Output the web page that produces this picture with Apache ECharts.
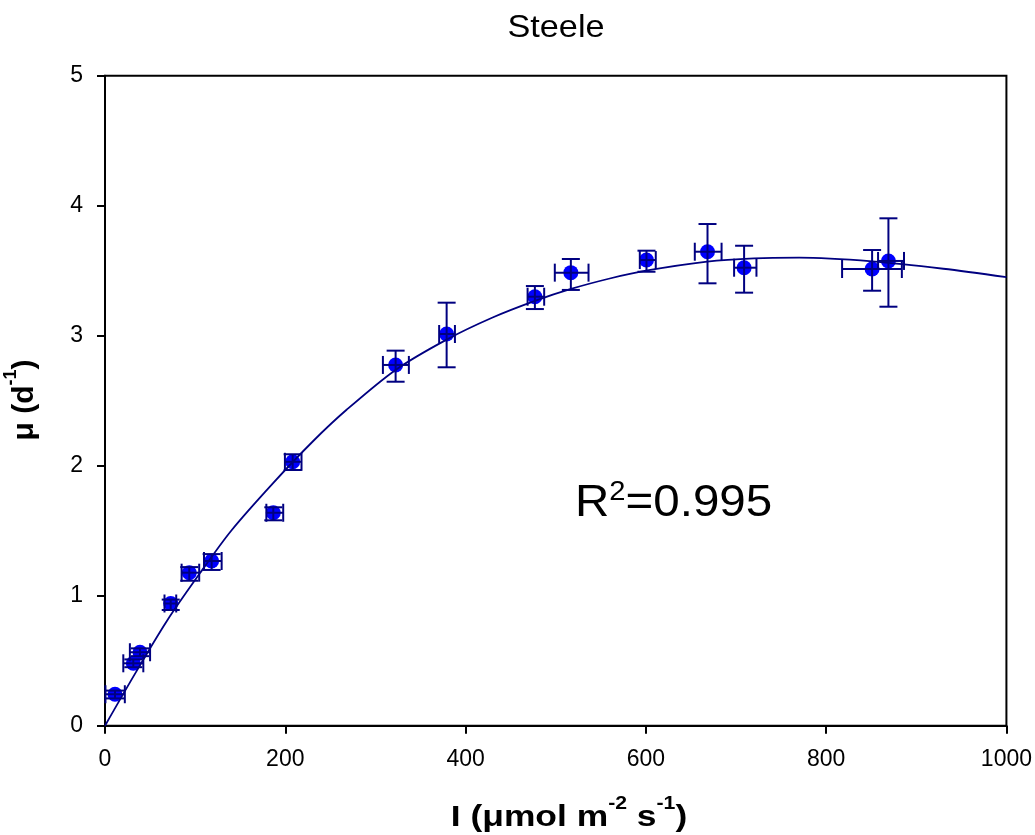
<!DOCTYPE html>
<html>
<head>
<meta charset="utf-8">
<script src="https://cdn.jsdelivr.net/npm/echarts@6/dist/echarts.min.js"></script>
<style>html,body{margin:0;padding:0;background:#fff}#c{width:1035px;height:835px}</style>
</head>
<body>
<div id="c"></div>
<script>
// Measured points: irradiance I, growth rate mu, and error-bar extents
var pointI   = [11.1, 31.4, 38.8, 72.9, 93.5, 118.3, 186.7, 208.2, 322.4, 379.0, 476.9, 516.8, 600.7, 668.4, 709.0, 851.0, 869.1];
var pointMu  = [0.242, 0.48, 0.565, 0.94, 1.177, 1.267, 1.638, 2.03, 2.775, 3.013, 3.30, 3.485, 3.582, 3.646, 3.523, 3.513, 3.575];
var xErrLow  = [0.5, 20.3, 27.6, 66.0, 85.0, 109.8, 179.0, 199.6, 308.3, 370.7, 468.8, 499.0, 593.3, 654.3, 697.9, 817.7, 857.6];
var xErrHigh = [22.0, 42.5, 50.0, 79.0, 104.5, 129.4, 197.7, 218.0, 337.1, 388.2, 487.2, 536.4, 611.0, 684.0, 722.7, 884.0, 886.4];
var yErrLow  = [0.21, 0.45, 0.535, 0.89, 1.115, 1.198, 1.58, 1.967, 2.646, 2.757, 3.205, 3.352, 3.492, 3.403, 3.331, 3.346, 3.223];
var yErrHigh = [0.27, 0.51, 0.595, 0.97, 1.22, 1.32, 1.68, 2.088, 2.885, 3.254, 3.382, 3.59, 3.654, 3.859, 3.692, 3.659, 3.903];

// Fitted curve
var curveI  = [0, 35, 69, 105, 140, 187, 231, 268, 322, 379, 430, 477, 517, 560, 600, 668, 720, 770, 851, 930, 1000];
var curveMu = [0, 0.42, 0.81, 1.17, 1.50, 1.87, 2.19, 2.43, 2.735, 2.97, 3.14, 3.268, 3.36, 3.44, 3.50, 3.57, 3.595, 3.60, 3.572, 3.515, 3.45];

var xTicks = [0, 200, 400, 600, 800, 1000];
var yTicks = [0, 1, 2, 3, 4, 5];

var titleText = 'Steele';

var navy = '#000080';
var blue = '#0000FF';
var FONT = '"Liberation Sans", Arial, sans-serif';

var scatterData = pointI.map(function (x, i) { return [x, pointMu[i]]; });
var errData = pointI.map(function (x, i) {
  return [x, pointMu[i], xErrLow[i], xErrHigh[i], yErrLow[i], yErrHigh[i]];
});
var curveData = curveI.map(function (x, i) { return [x, curveMu[i]]; });

var chart = echarts.init(document.getElementById('c'), null, {renderer: 'canvas'});
var cap = 9;
var boldRich = {
  a: {fontFamily: FONT, fontSize: 30, fontWeight: 'bold', fill: '#000', lineHeight: 46},
  s: {fontFamily: FONT, fontSize: 18, fontWeight: 'bold', fill: '#000', lineHeight: 18, verticalAlign: 'top'}
};
chart.setOption({
  animation: false,
  backgroundColor: '#fff',
  grid: {left: 105, right: 28, top: 75.7, bottom: 109.3, show: true, borderColor: '#000', borderWidth: 2, backgroundColor: 'transparent'},
  xAxis: {
    type: 'value', min: 0, max: 1000, interval: 200,
    axisLine: {show: true, lineStyle: {color: '#000', width: 2}},
    axisTick: {show: true, inside: false, length: 8, lineStyle: {color: '#000', width: 2}},
    splitLine: {show: false},
    axisLabel: {margin: 22, fontFamily: FONT, fontSize: 23, color: '#000',
      formatter: function (v) { return xTicks.indexOf(v) >= 0 ? String(v) : ''; }}
  },
  yAxis: {
    type: 'value', min: 0, max: 5, interval: 1,
    axisLine: {show: true, lineStyle: {color: '#000', width: 2}},
    axisTick: {show: true, inside: false, length: 8, lineStyle: {color: '#000', width: 2}},
    splitLine: {show: false},
    axisLabel: {margin: 22, fontFamily: FONT, fontSize: 23, color: '#000',
      formatter: function (v) { return yTicks.indexOf(v) >= 0 ? String(v) : ''; }}
  },
  graphic: [
    {
      type: 'text', x: 556, y: 28, scaleX: 1.07, z: 10,
      style: {text: titleText, fontFamily: FONT, fontSize: 32, fill: '#000', align: 'center', verticalAlign: 'middle'}
    },
    {
      type: 'text', x: 569, y: 818, scaleX: 1.18, z: 10,
      style: {
        text: '{a|I (\u03bcmol m}{s|-2}{a| s}{s|-1}{a|)}',
        align: 'center', verticalAlign: 'middle', rich: boldRich
      }
    },
    {
      type: 'text', x: 25, y: 400, rotation: Math.PI / 2, z: 10,
      style: {
        text: '{a|\u03bc (d}{s|-1}{a|)}',
        align: 'center', verticalAlign: 'middle', rich: boldRich
      }
    },
    {
      type: 'text', x: 575, y: 504, scaleX: 1.08, z: 10,
      style: {
        text: '{a|R}{s|2}{a|=0.995}',
        align: 'left', verticalAlign: 'middle',
        rich: {
          a: {fontFamily: FONT, fontSize: 44, fill: '#000', lineHeight: 50},
          s: {fontFamily: FONT, fontSize: 27, fill: '#000', lineHeight: 30, verticalAlign: 'top'}
        }
      }
    }
  ],
  series: [
    {
      type: 'scatter', data: scatterData, symbol: 'circle', symbolSize: 15,
      itemStyle: {color: blue, opacity: 1}, z: 2
    },
    {
      type: 'line', data: curveData, smooth: 0.3, showSymbol: false, symbol: 'none',
      lineStyle: {color: navy, width: 1.8}, z: 4, silent: true
    },
    {
      type: 'custom', data: errData, z: 3,
      encode: {x: [0, 2, 3], y: [1, 4, 5]},
      renderItem: function (params, api) {
        var x = api.value(0), y = api.value(1);
        var c = api.coord([x, y]);
        var xl = api.coord([api.value(2), y]);
        var xh = api.coord([api.value(3), y]);
        var yl = api.coord([x, api.value(4)]);
        var yh = api.coord([x, api.value(5)]);
        var st = {stroke: navy, lineWidth: 2, fill: null};
        function L(x1, y1, x2, y2) { return {type: 'line', shape: {x1: x1, y1: y1, x2: x2, y2: y2}, style: st}; }
        return {type: 'group', children: [
          L(xl[0], c[1], xh[0], c[1]),
          L(xl[0], c[1] - cap, xl[0], c[1] + cap),
          L(xh[0], c[1] - cap, xh[0], c[1] + cap),
          L(c[0], yl[1], c[0], yh[1]),
          L(c[0] - cap, yl[1], c[0] + cap, yl[1]),
          L(c[0] - cap, yh[1], c[0] + cap, yh[1])
        ]};
      }
    }
  ]
});
</script>
</body>
</html>
